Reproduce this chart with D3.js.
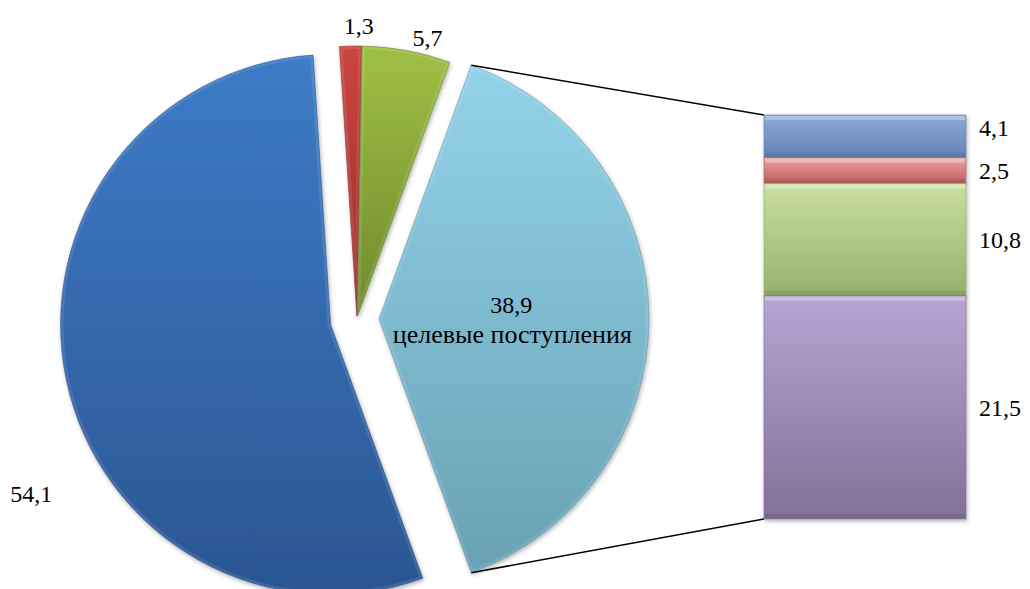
<!DOCTYPE html>
<html>
<head>
<meta charset="utf-8">
<script src="https://cdn.jsdelivr.net/npm/d3@7"></script>
<style>
  html, body { margin: 0; padding: 0; background: #fff; }
  svg { display: block; }
</style>
</head>
<body>
<svg id="chart" width="1030" height="589"></svg>
<script>
// ---------- data ----------
const pieCategories = ["прочие", "прочие 2", "прочие 3", "целевые поступления"];
const pieValues = [54.1, 1.3, 5.7, 38.9];
const pieLabels = ["54,1", "1,3", "5,7", "38,9"];

const barCategories = ["a", "b", "c", "d"];
const barValues = [4.1, 2.5, 10.8, 21.5];
const barLabels = ["4,1", "2,5", "10,8", "21,5"];

// ---------- styles / layout ----------
const FONT = "Liberation Serif";
const pieColors = [
  ["#3d7bc8", "#2b5692"],
  ["#cc4542", "#9c2b29"],
  ["#9fc046", "#6e8a2b"],
  ["#93d3ea", "#68a1b3"]
];
const barColors = [
  ["#8eabd9", "#6383b5"],
  ["#eba3a1", "#bd5f5c"],
  ["#c9e0a0", "#97b06c"],
  ["#b6a6d4", "#827097"]
];
const cx = 357, cy = 319, R = 270;
const rotate = 1.5 * Math.PI / 180;
const explode = [27, 3, 3, 22];
const labelPlace = [
  { frac: 0.41, dist: R + 74 },
  { frac: 0.87, dist: R + 20 },
  { frac: 0.69, dist: R + 17 },
  { frac: 0.5, dist: R * 0.49 }
];
const bar = { x: 764, top: 115, w: 202, h: 404 };

const svg = d3.select("#chart");
const defs = svg.append("defs");

const shadow = defs.append("filter").attr("id", "shadow")
  .attr("x", "-10%").attr("y", "-10%").attr("width", "120%").attr("height", "120%");
shadow.append("feDropShadow").attr("dx", 1).attr("dy", 2).attr("stdDeviation", 2)
  .attr("flood-color", "#000").attr("flood-opacity", 0.3);

function grad(id, c) {
  const g = defs.append("linearGradient").attr("id", id)
    .attr("x1", 0).attr("y1", 0).attr("x2", 0).attr("y2", 1);
  g.append("stop").attr("offset", "0%").attr("stop-color", c[0]);
  g.append("stop").attr("offset", "100%").attr("stop-color", c[1]);
}
pieColors.forEach((c, i) => grad("pg" + i, c));
barColors.forEach((c, i) => grad("bg" + i, c));

// ---------- pie ----------
const total = d3.sum(pieValues);
const last = pieValues.length - 1;
const start = Math.PI / 2 + Math.PI * pieValues[last] / total;
const pie = d3.pie().sort(null).value(d => d)
  .startAngle(start).endAngle(start + 2 * Math.PI);
const arcs = pie(pieValues);
// small rotation of the left-hand slices, as in the reference
arcs.forEach((d, i) => {
  if (i !== last) {
    if (i !== 0) d.startAngle += rotate;
    d.endAngle += (i === last - 1) ? 0 : rotate;
  }
});
const arc = d3.arc().innerRadius(0).outerRadius(R);

const dir = a => [Math.sin(a), -Math.cos(a)];
const apex = (d, i) => {
  const m = (d.startAngle + d.endAngle) / 2;
  const v = dir(m);
  return [cx + v[0] * explode[i], cy + v[1] * explode[i]];
};

const pg = svg.append("g");
const slices = pg.selectAll("g.slice").data(arcs).join("g")
  .attr("class", "slice")
  .attr("transform", (d, i) => `translate(${apex(d, i)})`);
slices.append("clipPath").attr("id", (d, i) => "pc" + i)
  .append("path").attr("d", arc);
slices.append("path")
  .attr("d", arc)
  .attr("fill", (d, i) => `url(#pg${i})`)
  .attr("stroke", (d, i) => d3.color(pieColors[i][1]).darker(0.3))
  .attr("stroke-width", 0.6)
  .attr("filter", "url(#shadow)");
// soft bevel highlight along the edges
slices.append("path")
  .attr("d", arc)
  .attr("fill", "none")
  .attr("stroke", "#fff")
  .attr("stroke-opacity", 0.1)
  .attr("stroke-width", 6)
  .attr("clip-path", (d, i) => `url(#pc${i})`);

// ---------- bar ----------
const y = d3.scaleLinear().domain([0, d3.sum(barValues)]).range([0, bar.h]);
const stacked = [];
let acc = 0;
barValues.forEach((v, i) => { stacked.push({ v, i, y0: acc, y1: acc + v }); acc += v; });

// connector lines
const other = arcs[last], oa = apex(other, last);
const p1 = dir(other.startAngle), p2 = dir(other.endAngle);
const bg = svg.append("g");
bg.append("line")
  .attr("x1", oa[0] + p1[0] * R).attr("y1", oa[1] + p1[1] * R)
  .attr("x2", bar.x).attr("y2", bar.top + y(stacked[0].y0))
  .attr("stroke", "#000").attr("stroke-width", 1.5);
bg.append("line")
  .attr("x1", oa[0] + p2[0] * R).attr("y1", oa[1] + p2[1] * R)
  .attr("x2", bar.x).attr("y2", bar.top + y(acc))
  .attr("stroke", "#000").attr("stroke-width", 1.5);

const segs = bg.selectAll("g.seg").data(stacked).join("g").attr("class", "seg");
segs.append("rect")
  .attr("x", bar.x)
  .attr("y", d => bar.top + y(d.y0))
  .attr("width", bar.w)
  .attr("height", d => y(d.y1) - y(d.y0))
  .attr("fill", d => `url(#bg${d.i})`)
  .attr("stroke", d => d3.color(barColors[d.i][1]).darker(0.2))
  .attr("stroke-width", 0.6)
  .attr("filter", "url(#shadow)");
// bevel: light top band, darker bottom band
segs.append("rect")
  .attr("x", bar.x + 1)
  .attr("y", d => bar.top + y(d.y0) + 1)
  .attr("width", bar.w - 2)
  .attr("height", 4)
  .attr("fill", "#fff").attr("fill-opacity", 0.3);
segs.append("rect")
  .attr("x", bar.x + 1)
  .attr("y", d => bar.top + y(d.y1) - 5)
  .attr("width", bar.w - 2)
  .attr("height", 4)
  .attr("fill", "#000").attr("fill-opacity", 0.08);

// bar labels with simple collision avoidance (push upward)
const centers = stacked.map(d => bar.top + y((d.y0 + d.y1) / 2));
const minGap = 43;
for (let i = centers.length - 2; i >= 0; i--) {
  if (centers[i + 1] - centers[i] < minGap) centers[i] = centers[i + 1] - minGap;
}
bg.selectAll("text.bl").data(stacked).join("text")
  .attr("class", "bl")
  .attr("x", bar.x + bar.w + 13)
  .attr("y", (d, i) => centers[i] + 8.5)
  .style("font-family", FONT)
  .attr("font-size", 24)
  .attr("fill", "#000")
  .text(d => barLabels[d.i]);

// ---------- pie labels ----------
arcs.forEach((d, i) => {
  const a = apex(d, i);
  const ang = d.startAngle + (d.endAngle - d.startAngle) * labelPlace[i].frac;
  const v = dir(ang);
  const x = a[0] + v[0] * labelPlace[i].dist;
  const yy = a[1] + v[1] * labelPlace[i].dist;
  const t = pg.append("text").attr("text-anchor", "middle")
    .style("font-family", FONT)
    .attr("font-size", 24).attr("fill", "#000");
  if (i === last) {
    t.append("tspan").attr("x", x).attr("y", yy - 6).text(pieLabels[i]);
    t.append("tspan").attr("x", x + 1).attr("y", yy + 24)
      .attr("font-size", 26).text(pieCategories[i]);
  } else {
    t.attr("x", x).attr("y", yy + 8).text(pieLabels[i]);
  }
});
</script>
</body>
</html>
